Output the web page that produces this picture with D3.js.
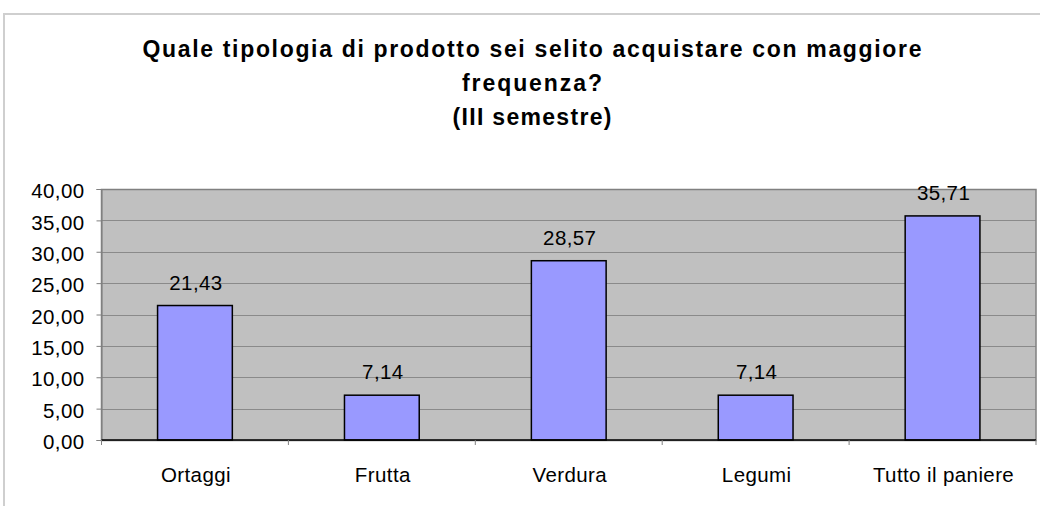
<!DOCTYPE html>
<html>
<head>
<meta charset="utf-8">
<script src="https://cdn.jsdelivr.net/npm/d3@7"></script>
<style>
  html, body { margin: 0; padding: 0; background: #fff; }
  svg { display: block; font-family: "Liberation Sans", Arial, sans-serif; }
</style>
</head>
<body>
<svg id="chart" width="1040" height="506"></svg>
<script>
const titleLines = ["Quale tipologia di prodotto sei selito acquistare con maggiore", "frequenza?", "(III semestre)"];
const categories = ["Ortaggi", "Frutta", "Verdura", "Legumi", "Tutto il paniere"];
const values = [21.43, 7.14, 28.57, 7.14, 35.71];
const yTicks = [0, 5, 10, 15, 20, 25, 30, 35, 40];

const svg = d3.select("#chart");
const plot = { left: 101.5, right: 1036, top: 189, bottom: 440 };

const it = d3.formatLocale({ decimal: ",", thousands: ".", grouping: [3], currency: ["", "€"] });
const fmt = it.format(".2f");

// outer frame
svg.append("rect")
  .attr("x", 4).attr("y", 14).attr("width", 1200).attr("height", 700)
  .attr("fill", "none").attr("stroke", "#cfcfcf").attr("stroke-width", 2);

// title
const titleWidths = [779, 140, 159];
const titleBase = [57, 91, 125];
titleLines.forEach((t, i) => {
  svg.append("text")
    .attr("x", 532).attr("y", titleBase[i])
    .attr("text-anchor", "middle")
    .attr("font-size", 23).attr("font-weight", "bold")
    .attr("fill", "#000")
    .attr("textLength", titleWidths[i])
    .attr("lengthAdjust", "spacing")
    .text(t);
});

const x = d3.scaleBand().domain(categories).range([plot.left, plot.right]).paddingInner(0).paddingOuter(0);
const y = d3.scaleLinear().domain([0, 40]).range([plot.bottom, plot.top]);

// plot background
svg.append("rect")
  .attr("x", plot.left).attr("y", plot.top)
  .attr("width", plot.right - plot.left).attr("height", plot.bottom - plot.top)
  .attr("fill", "#c0c0c0");

// gridlines
svg.append("g").selectAll("line").data(yTicks.filter(d => d > 0 && d < 40)).join("line")
  .attr("x1", plot.left).attr("x2", plot.right)
  .attr("y1", d => Math.round(y(d)) + 0.5).attr("y2", d => Math.round(y(d)) + 0.5)
  .attr("stroke", "#8a8a8a").attr("stroke-width", 1);

// plot border
svg.append("rect")
  .attr("x", plot.left).attr("y", plot.top + 0.5)
  .attr("width", plot.right - plot.left).attr("height", plot.bottom - plot.top)
  .attr("fill", "none").attr("stroke", "#808080").attr("stroke-width", 1.5);

const labelFont = 20.5, labelLS = "0.4px";

// y axis
const yAxis = d3.axisLeft(y).tickValues(yTicks).tickSize(5).tickPadding(12).tickFormat(fmt);
const gy = svg.append("g").attr("transform", `translate(${plot.left},0)`).call(yAxis);
gy.select(".domain").attr("stroke", "#808080");
gy.selectAll(".tick line").attr("stroke", "#808080");
gy.selectAll(".tick text")
  .attr("font-size", labelFont).attr("font-family", "'Liberation Sans', Arial, sans-serif")
  .attr("fill", "#000").style("letter-spacing", labelLS).attr("dy", "0.42em");

// bars
const barW = x.bandwidth() * 0.4;
svg.append("g").selectAll("rect").data(categories).join("rect")
  .attr("x", d => x(d) + x.bandwidth() / 2 - barW / 2)
  .attr("y", (d, i) => y(values[i]))
  .attr("width", barW)
  .attr("height", (d, i) => y(0) - y(values[i]))
  .attr("fill", "#9999ff").attr("stroke", "#000").attr("stroke-width", 1.5);

// value labels
svg.append("g").selectAll("text").data(categories).join("text")
  .attr("x", d => x(d) + x.bandwidth() / 2 + 1)
  .attr("y", (d, i) => y(values[i]) - 16)
  .attr("text-anchor", "middle")
  .attr("font-size", labelFont).style("letter-spacing", labelLS)
  .attr("fill", "#000")
  .text((d, i) => fmt(values[i]));

// x axis line & ticks at band boundaries
svg.append("line")
  .attr("x1", plot.left).attr("x2", plot.right)
  .attr("y1", plot.bottom).attr("y2", plot.bottom)
  .attr("stroke", "#000").attr("stroke-width", 1.5);
const bounds = categories.map(d => x(d)).concat([plot.right]);
svg.append("g").selectAll("line").data(bounds).join("line")
  .attr("x1", d => d).attr("x2", d => d)
  .attr("y1", plot.bottom).attr("y2", plot.bottom + 5)
  .attr("stroke", "#808080");

// x labels
svg.append("g").selectAll("text").data(categories).join("text")
  .attr("x", d => x(d) + x.bandwidth() / 2 + 1)
  .attr("y", 482)
  .attr("text-anchor", "middle")
  .attr("font-size", labelFont).style("letter-spacing", labelLS)
  .attr("fill", "#000")
  .text(d => d);
</script>
</body>
</html>
